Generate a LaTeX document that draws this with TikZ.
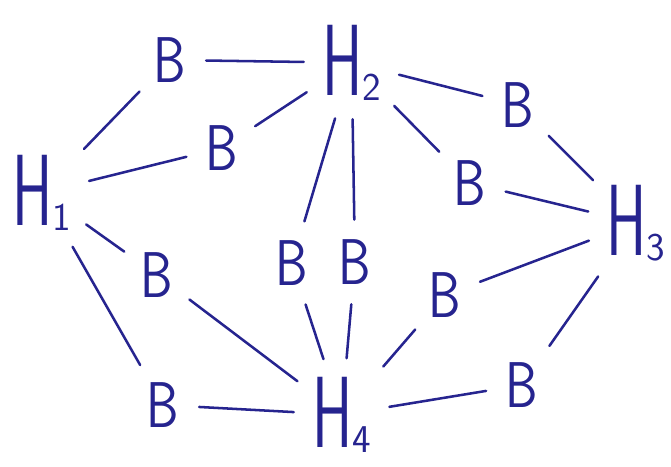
\documentclass[tikz,border=0pt]{standalone}
\usepackage{graphicx}
\usepackage{tikz}
\definecolor{ink}{HTML}{26248F}
\newcommand{\hsym}[1]{\scalebox{0.6}[1]{H}\raisebox{-4pt}{\fontsize{28}{28}\selectfont #1}}
\newcommand{\bsym}{\scalebox{0.8}[1]{B}}

\begin{document}
\begin{tikzpicture}[x=0.025cm, y=-0.025cm,
    hnode/.style={inner sep=0pt, anchor=base west, text=ink, font=\sffamily\fontsize{72}{72}\selectfont},
    bnode/.style={inner sep=1pt, text=ink, font=\sffamily\fontsize{46}{46}\selectfont},
    bond/.style={ink, line width=1.8pt, line cap=round, shorten <=13pt, shorten >=13pt}]
    \useasboundingbox (0,0) rectangle (671,467);
    \node[hnode] (h1) at (12,225) {\hsym{1}};
    \node[hnode] (h2) at (322,95) {\hsym{2}};
    \node[hnode] (h3) at (606,255) {\hsym{3}};
    \node[hnode] (h4) at (312,447) {\hsym{4}};
    \node[bnode] (b1) at (170,60) {\bsym};
    \node[bnode] (b2) at (222,148) {\bsym};
    \node[bnode] (b3) at (518,105) {\bsym};
    \node[bnode] (b4) at (470,183) {\bsym};
    \node[bnode] (b5) at (445,295) {\bsym};
    \node[bnode] (b6) at (522,385) {\bsym};
    \node[bnode] (b7) at (157,275) {\bsym};
    \node[bnode] (b8) at (163,405) {\bsym};
    \node[bnode] (b9) at (292,263) {\bsym};
    \node[bnode] (b10) at (355,262) {\bsym};
    \draw[bond] (h1) -- (b1); \draw[bond] (b1) -- (h2);
    \draw[bond] (h1) -- (b2); \draw[bond] (b2) -- (h2);
    \draw[bond] (h2) -- (b3); \draw[bond] (b3) -- (h3);
    \draw[bond] (h2) -- (b4); \draw[bond] (b4) -- (h3);
    \draw[bond] (h3) -- (b5); \draw[bond] (b5) -- (h4);
    \draw[bond] (h3) -- (b6); \draw[bond] (b6) -- (h4);
    \draw[bond] (h1) -- (b7); \draw[bond] (b7) -- (h4);
    \draw[bond] (h1) -- (b8); \draw[bond] (b8) -- (h4);
    \draw[bond] (h2) -- (b9); \draw[bond] (b9) -- (h4);
    \draw[bond] (h2) -- (b10); \draw[bond] (b10) -- (h4);
  \end{tikzpicture}
\end{document}
